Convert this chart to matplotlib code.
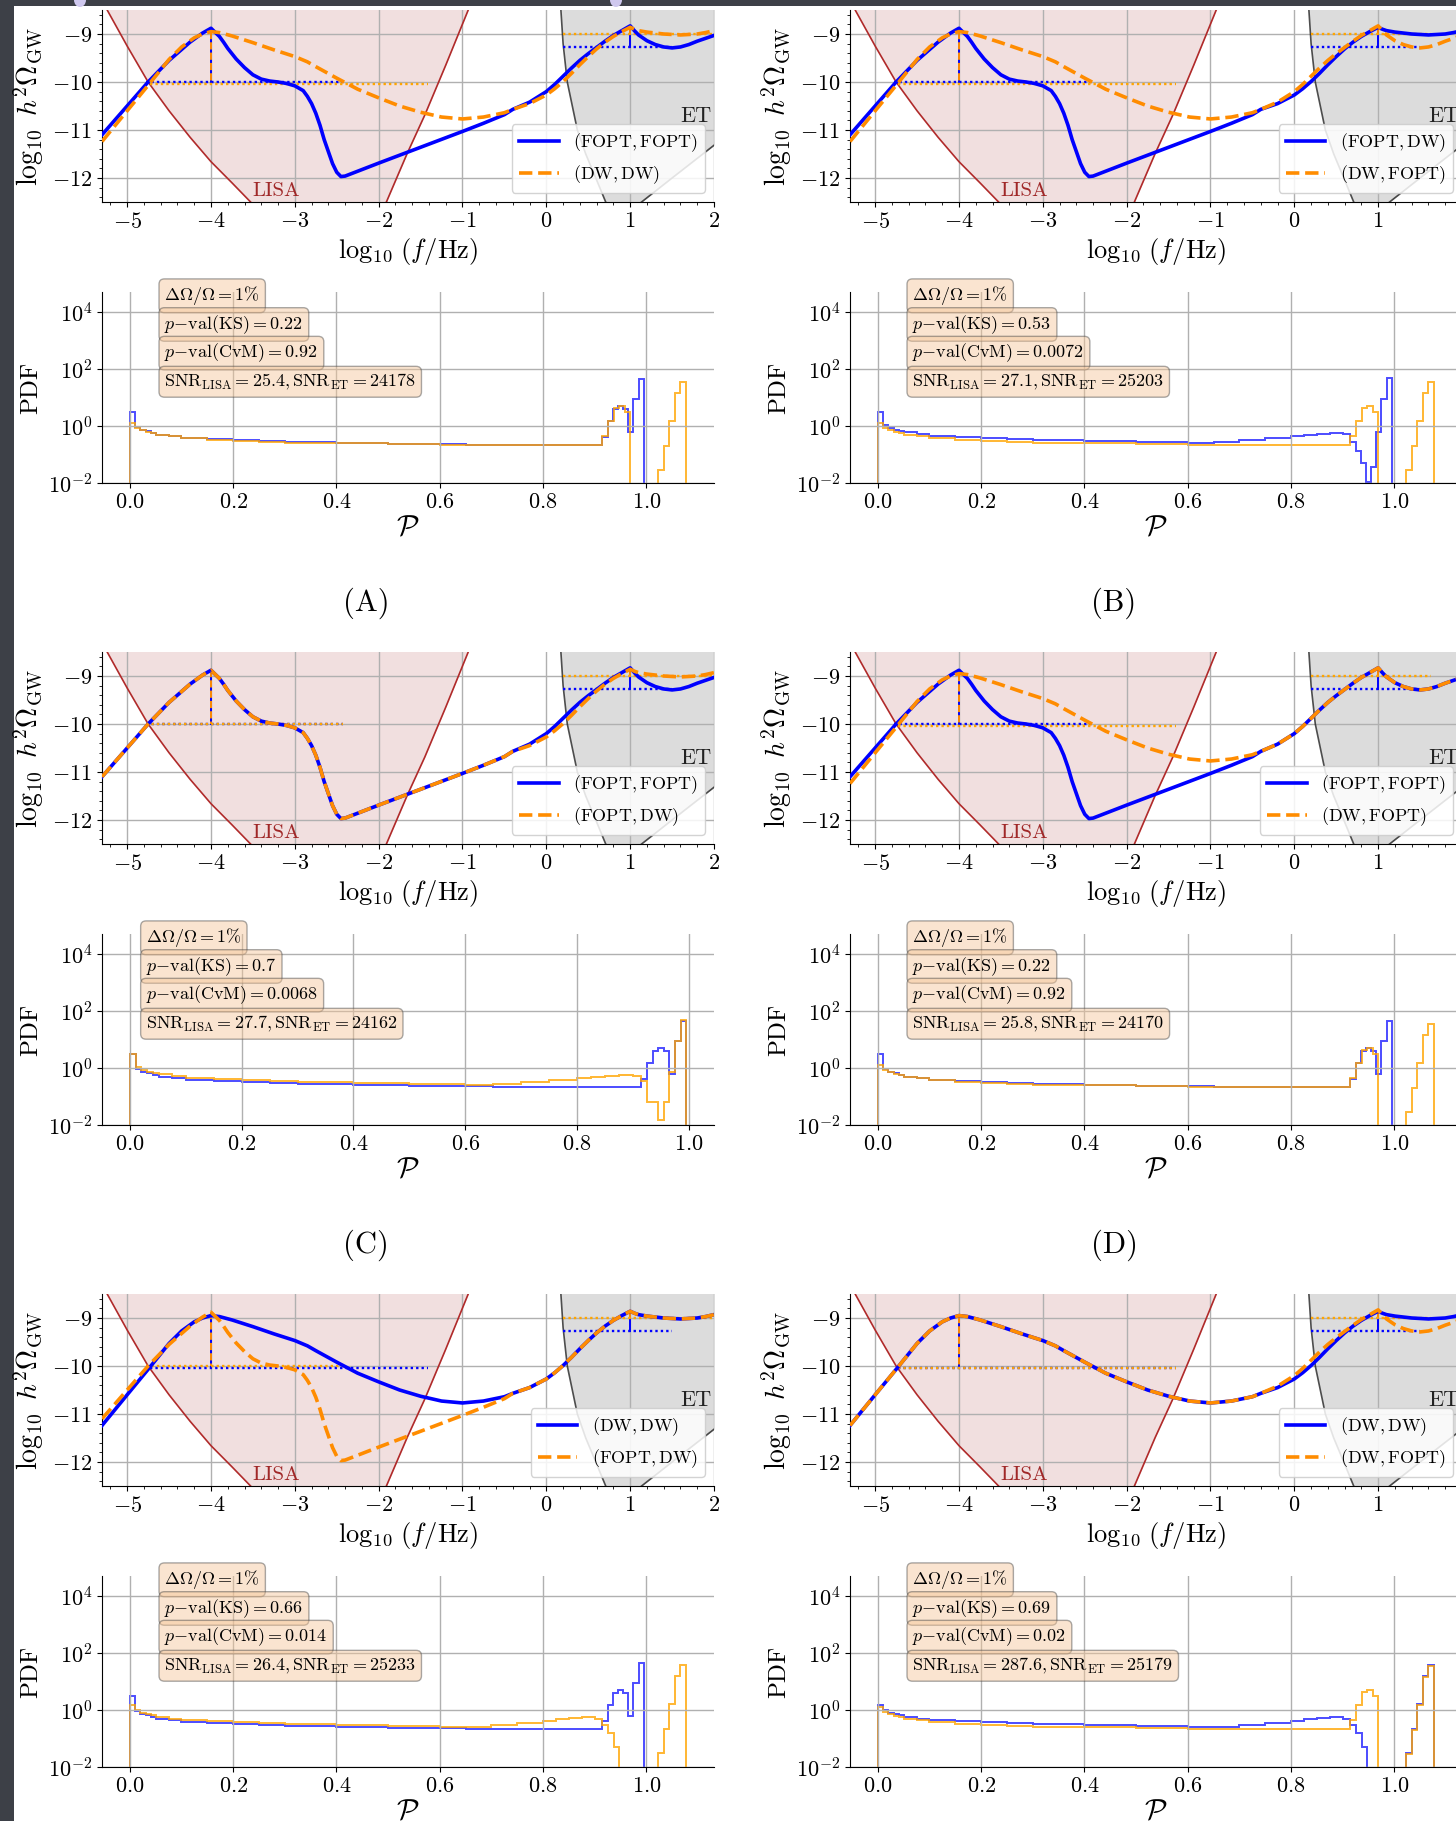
import numpy as np
import matplotlib
matplotlib.use('Agg')
import matplotlib.pyplot as plt
from matplotlib.patches import Rectangle, Ellipse
from matplotlib.ticker import AutoMinorLocator, FixedLocator, NullLocator

plt.rcParams['font.family'] = 'serif'
plt.rcParams['font.serif'] = ['cmr10']
plt.rcParams['mathtext.fontset'] = 'cm'
plt.rcParams['axes.formatter.use_mathtext'] = True

# ---------------- GW spectra: log10 f  vs  log10 h^2 Omega ----------------
# low-frequency (LISA band) part of the two source types
fopt_low_x = [-5.3, -5.0, -4.75, -4.5, -4.25, -4.1, -4.0, -3.9, -3.85, -3.8, -3.7, -3.6, -3.5, -3.4,
              -3.3, -3.2, -3.1, -3.0, -2.9, -2.85, -2.8, -2.75, -2.7, -2.65, -2.6, -2.55, -2.5, -2.45,
              -2.4, -2.0, -1.5, -1.0, -0.75, -0.5]
fopt_low_y = [-11.1, -10.5, -10.0, -9.55, -9.17, -8.98, -8.88, -9.05, -9.17, -9.3, -9.52, -9.7, -9.85, -9.94,
              -9.98, -10.0, -10.03, -10.08, -10.18, -10.3, -10.45, -10.65, -10.9, -11.2, -11.45, -11.7, -11.88, -11.97,
              -11.96, -11.69, -11.36, -11.03, -10.86, -10.68]
dw_low_x = [-5.3, -5.0, -4.75, -4.5, -4.35, -4.2, -4.1, -4.0, -3.9, -3.75, -3.5, -3.25, -3.0, -2.85,
            -2.75, -2.5, -2.25, -2.0, -1.75, -1.5, -1.25, -1.0, -0.75, -0.5]
dw_low_y = [-11.24, -10.6, -10.07, -9.53, -9.27, -9.08, -9.0, -8.95, -8.97, -9.04, -9.18, -9.33, -9.47, -9.58,
            -9.68, -9.92, -10.15, -10.33, -10.5, -10.63, -10.73, -10.77, -10.73, -10.64]
# high-frequency (ET band) part
high_x = [-0.4, -0.2, 0.0, 0.1, 0.2, 0.3, 0.4, 0.5, 0.6, 0.7, 0.8, 0.9, 1.0, 1.05, 1.1, 1.2,
          1.3, 1.4, 1.5, 1.6, 1.7, 1.8, 1.9, 2.0]
fopt_high_y = [-10.57, -10.42, -10.2, -10.05, -9.88, -9.71, -9.55, -9.41, -9.28, -9.15, -9.03, -8.93, -8.83, -8.93, -9.02, -9.14,
               -9.22, -9.27, -9.29, -9.27, -9.22, -9.15, -9.09, -9.03]
dw_high_y = [-10.57, -10.45, -10.27, -10.14, -9.99, -9.82, -9.64, -9.47, -9.31, -9.17, -9.05, -8.95, -8.86, -8.9, -8.93, -8.96,
             -8.98, -9.0, -9.01, -9.02, -9.01, -9.0, -8.97, -8.93]

# peak markers
lisa_peak = {'FOPT': -8.88, 'DW': -8.95}
lisa_level = {'FOPT': -10.0, 'DW': -10.04}
lisa_span = {'FOPT': (-4.77, -2.42), 'DW': (-4.73, -1.41)}
et_peak = {'FOPT': -8.83, 'DW': -8.86}
et_level_blue = -9.27
et_level_orange = -9.0
et_end_blue = 1.5
et_end_orange = {'FOPT': 1.63, 'DW': 2.0}

# detector sensitivity curves
lisa_x = [-5.27, -5.0, -4.75, -4.5, -4.25, -4.0, -3.75, -3.5, -2.7, -1.92, -1.66, -1.45, -1.2, -0.92]
lisa_y = [-8.4, -9.25, -10.0, -10.6, -11.15, -11.66, -12.1, -12.55, -13.3, -12.55, -11.49, -10.69, -9.65, -8.45]
et_sens_x = [0.17, 0.2, 0.25, 0.37, 0.47, 0.59, 0.72, 0.9, 1.1, 1.5, 2.05]
et_sens_y = [-8.4, -9.2, -10.0, -11.0, -11.5, -12.0, -12.55, -13.0, -12.55, -12.0, -11.25]

# ---------------- PDF histograms ----------------
body_edges = [0.0, 0.0103, 0.0206, 0.031, 0.0413, 0.0516, 0.075, 0.1, 0.15, 0.2, 0.25, 0.3, 0.4, 0.5,
              0.6, 0.65, 0.7, 0.75, 0.8, 0.825, 0.85, 0.875, 0.9, 0.915]
flat_short = [3.0, 0.95, 0.75, 0.65, 0.58, 0.5, 0.44, 0.39, 0.34, 0.31, 0.29, 0.265, 0.245,
              0.232, 0.225, 0.222, 0.22, 0.218, 0.216, 0.215, 0.214, 0.213, 0.212]
flat_long = [1.25, 0.85, 0.72, 0.63, 0.56, 0.49, 0.43, 0.385, 0.335, 0.305, 0.285, 0.262, 0.243,
             0.23, 0.224, 0.221, 0.219, 0.217, 0.215, 0.214, 0.213, 0.212, 0.212]
bump_short = [3.0, 1.1, 0.85, 0.75, 0.68, 0.6, 0.52, 0.46, 0.41, 0.38, 0.36, 0.33, 0.3,
              0.28, 0.26, 0.27, 0.31, 0.37, 0.43, 0.48, 0.53, 0.58, 0.52]
bump_long = [1.45, 1.0, 0.8, 0.72, 0.65, 0.58, 0.5, 0.45, 0.4, 0.37, 0.35, 0.32, 0.29,
             0.27, 0.25, 0.26, 0.3, 0.36, 0.42, 0.47, 0.52, 0.57, 0.5]

tail_edges_short = [0.915, 0.925, 0.935, 0.945, 0.955, 0.965, 0.975, 0.985, 0.995]
tail_edges_long = [0.915, 0.926, 0.937, 0.947, 0.958, 0.969, 0.98, 0.99, 1.001, 1.012, 1.023,
                   1.034, 1.044, 1.055, 1.066, 1.077]
tail_peak = [0.4, 1.5, 4.0, 5.2, 3.9, 0.63, 9.0, 45.0]
tail_dip_peak = [0.28, 0.13, 0.05, 0.011, 0.035, 0.6, 8.7, 50.0]
tail_dip_peak_c = [0.35, 0.065, 0.065, 0.015, 0.066, 0.72, 9.0, 50.0]
tail_bump_far = [0.45, 1.5, 4.3, 5.2, 3.0, 0, 0, 0, 0, 0, 0.028, 0.2, 1.5, 14.0, 36.0]
tail_drop_far = [0.3, 0.15, 0.05, 0, 0, 0, 0, 0, 0, 0, 0.03, 0.22, 1.65, 16.0, 37.0]

# ---------------- panels ----------------
panel_names = ['(A)', '(B)', '(C)', '(D)', '(E)', '(F)']
pair_blue = [('FOPT', 'FOPT'), ('FOPT', 'DW'), ('FOPT', 'FOPT'), ('FOPT', 'FOPT'), ('DW', 'DW'), ('DW', 'DW')]
pair_orange = [('DW', 'DW'), ('DW', 'FOPT'), ('FOPT', 'DW'), ('DW', 'FOPT'), ('FOPT', 'DW'), ('DW', 'FOPT')]
hist_blue = [('flat_short', 'tail_peak'), ('bump_short', 'tail_dip_peak'), ('flat_short', 'tail_peak'),
             ('flat_short', 'tail_peak'), ('flat_short', 'tail_peak'), ('bump_long', 'tail_drop_far')]
hist_orange = [('flat_long', 'tail_bump_far'), ('flat_long', 'tail_bump_far'), ('bump_short', 'tail_dip_peak_c'),
               ('flat_long', 'tail_bump_far'), ('bump_long', 'tail_drop_far'), ('flat_long', 'tail_bump_far')]
pval_ks = ['0.22', '0.53', '0.7', '0.22', '0.66', '0.69']
pval_cvm = ['0.92', '0.0072', '0.0068', '0.92', '0.014', '0.02']
snr_lisa = ['25.4', '27.1', '27.7', '25.8', '26.4', '287.6']
snr_et = ['24178', '25203', '24162', '24170', '25233', '25179']
box_x = [0.102, 0.102, 0.072, 0.102, 0.102, 0.102]

bodies = {'flat_short': flat_short, 'flat_long': flat_long, 'bump_short': bump_short, 'bump_long': bump_long}
tails = {'tail_peak': (tail_edges_short, tail_peak), 'tail_dip_peak': (tail_edges_short, tail_dip_peak),
         'tail_dip_peak_c': (tail_edges_short, tail_dip_peak_c),
         'tail_bump_far': (tail_edges_long, tail_bump_far), 'tail_drop_far': (tail_edges_long, tail_drop_far)}
low_parts = {'FOPT': (fopt_low_x, fopt_low_y), 'DW': (dw_low_x, dw_low_y)}
high_parts = {'FOPT': fopt_high_y, 'DW': dw_high_y}


def spectrum(pair):
    lx, ly = low_parts[pair[0]]
    return np.concatenate([lx, high_x]), np.concatenate([ly, high_parts[pair[1]]])


def pair_label(pair):
    return r'$(\mathrm{%s},\mathrm{%s})$' % pair


W, H = 1456, 1821
fig = plt.figure(figsize=(W / 100, H / 100), dpi=100, facecolor='#3d4047')
fig.patches.append(Rectangle((14 / W, 0), 1, 1 - 6 / H, transform=fig.transFigure,
                             facecolor='white', edgecolor='none', zorder=-1))
for ex in (80, 616):
    fig.patches.append(Ellipse((ex / W, 1.0), 12 / W, 14 / H, transform=fig.transFigure,
                               facecolor='#cfc8ee', edgecolor='none', zorder=-0.5))


def px_axes(left, top, right, bottom):
    return fig.add_axes([left / W, 1 - bottom / H, (right - left) / W, (bottom - top) / H])


BLUE = '#0000ff'
ORANGE = '#ff8c00'
DOT_ORANGE = '#ffa500'

for i in range(6):
    col, row = i % 2, i // 2
    dx, dy = col * 748, row * 642

    # ---- GW spectrum panel ----
    ax = px_axes(102 + dx, 10 + dy, 714 + dx, 202 + dy)
    ax.fill_between(lisa_x, lisa_y, -8.0, color='brown', alpha=0.15, lw=0, zorder=0.5)
    ax.plot(lisa_x, lisa_y, color='#b02a2a', lw=1.2, zorder=1.8)
    ax.fill_between(et_sens_x, et_sens_y, -8.0, color='gray', alpha=0.27, lw=0, zorder=0.5)
    ax.plot(et_sens_x, et_sens_y, color='#222222', lw=1.2, alpha=0.8, zorder=1.8)
    ax.text(-3.22, -12.27, 'LISA', color='#a02828', fontsize=15, ha='center', va='center')
    ax.text(1.78, -10.72, 'ET', color='#222222', fontsize=16, ha='center', va='center')

    handles = []
    for pair, c, ls, dotc in ((pair_blue[i], BLUE, '-', BLUE), (pair_orange[i], ORANGE, '--', DOT_ORANGE)):
        x, y = spectrum(pair)
        ln, = ax.plot(x, y, color=c, ls=ls, lw=2.6, zorder=3 if c == BLUE else 3.2)
        handles.append(ln)
        lo = pair[0]
        ax.plot([-4.0, -4.0], [lisa_peak[lo], lisa_level[lo]], color=c, ls=ls, lw=1.4, zorder=2.5)
        ax.plot(list(lisa_span[lo]), [lisa_level[lo]] * 2, color=dotc, ls=(0, (1, 1.3)), lw=1.7, zorder=2.5)
        hi = pair[1]
        if c == BLUE:
            lev, end = et_level_blue, et_end_blue
        else:
            lev, end = et_level_orange, et_end_orange[hi]
        ax.plot([1.0, 1.0], [et_peak[hi], lev], color=c, ls='-', lw=1.4, zorder=2.5)
        ax.plot([0.2, end], [lev, lev], color=dotc, ls=(0, (1, 1.3)), lw=1.7, zorder=2.5)

    ax.set_xlim(-5.3, 2.0)
    ax.set_ylim(-12.5, -8.5)
    ax.xaxis.set_major_locator(FixedLocator([-5, -4, -3, -2, -1, 0, 1, 2]))
    ax.yaxis.set_major_locator(FixedLocator([-12, -11, -10, -9]))
    ax.xaxis.set_minor_locator(AutoMinorLocator(5))
    ax.yaxis.set_minor_locator(AutoMinorLocator(5))
    ax.grid(True, which='major', color='#b0b0b0', lw=1.0)
    ax.tick_params(labelsize=16)
    for s in ('top', 'right'):
        ax.spines[s].set_visible(False)
    ax.set_xlabel(r'$\log_{10}\,(f/\mathrm{Hz})$', fontsize=19, labelpad=3)
    ax.set_ylabel(r'$\log_{10}\ h^2\Omega_{\mathrm{GW}}$', fontsize=20, labelpad=4)
    ax.legend(handles, [pair_label(pair_blue[i]), pair_label(pair_orange[i])], loc='lower right',
              fontsize=13, handlelength=2.2, framealpha=0.85)

    # ---- PDF panel ----
    ax2 = px_axes(102 + dx, 292 + dy, 714 + dx, 483 + dy)
    ax2.set_yscale('log', nonpositive='clip')
    for (bname, tname), c, a in ((hist_blue[i], 'blue', 0.7), (hist_orange[i], 'orange', 0.8)):
        te, tv = tails[tname]
        edges = body_edges + te[1:]
        vals = bodies[bname] + tv
        ax2.stairs(vals, edges, baseline=0, color=c, alpha=a, lw=1.4)
    ax2.set_ylim(1e-2, 5e4)
    ax2.yaxis.set_major_locator(FixedLocator([1e-2, 1e0, 1e2, 1e4]))
    ax2.yaxis.set_minor_locator(NullLocator())
    ax2.xaxis.set_major_locator(FixedLocator([0.0, 0.2, 0.4, 0.6, 0.8, 1.0]))
    ax2.grid(True, which='major', color='#b0b0b0', lw=1.0)
    ax2.tick_params(labelsize=16)
    for s in ('top', 'right'):
        ax2.spines[s].set_visible(False)
    ax2.set_xlabel(r'$\mathcal{P}$', fontsize=21, labelpad=2)
    ax2.set_ylabel('PDF', fontsize=18, labelpad=4)

    props = dict(boxstyle='round', facecolor='#f5c597', edgecolor='#444444', alpha=0.45)
    lines = [r'$\Delta\Omega/\Omega = 1\%$',
             r'$p{-}\mathrm{val(KS)} = %s$' % pval_ks[i],
             r'$p{-}\mathrm{val(CvM)} = %s$' % pval_cvm[i],
             r'$\mathrm{SNR}_{\mathrm{LISA}} = %s, \mathrm{SNR}_{\mathrm{ET}} = %s$' % (snr_lisa[i], snr_et[i])]
    for t, yy in zip(lines, [0.98, 0.83, 0.68, 0.53]):
        ax2.text(box_x[i], yy, t, transform=ax2.transAxes, fontsize=13, ha='left', va='center', bbox=props)

    fig.text((366 + dx) / W, 1 - (603 + dy) / H, panel_names[i], fontsize=22, ha='center', va='center')

fig.savefig('out.png', dpi=100, facecolor=fig.get_facecolor())
